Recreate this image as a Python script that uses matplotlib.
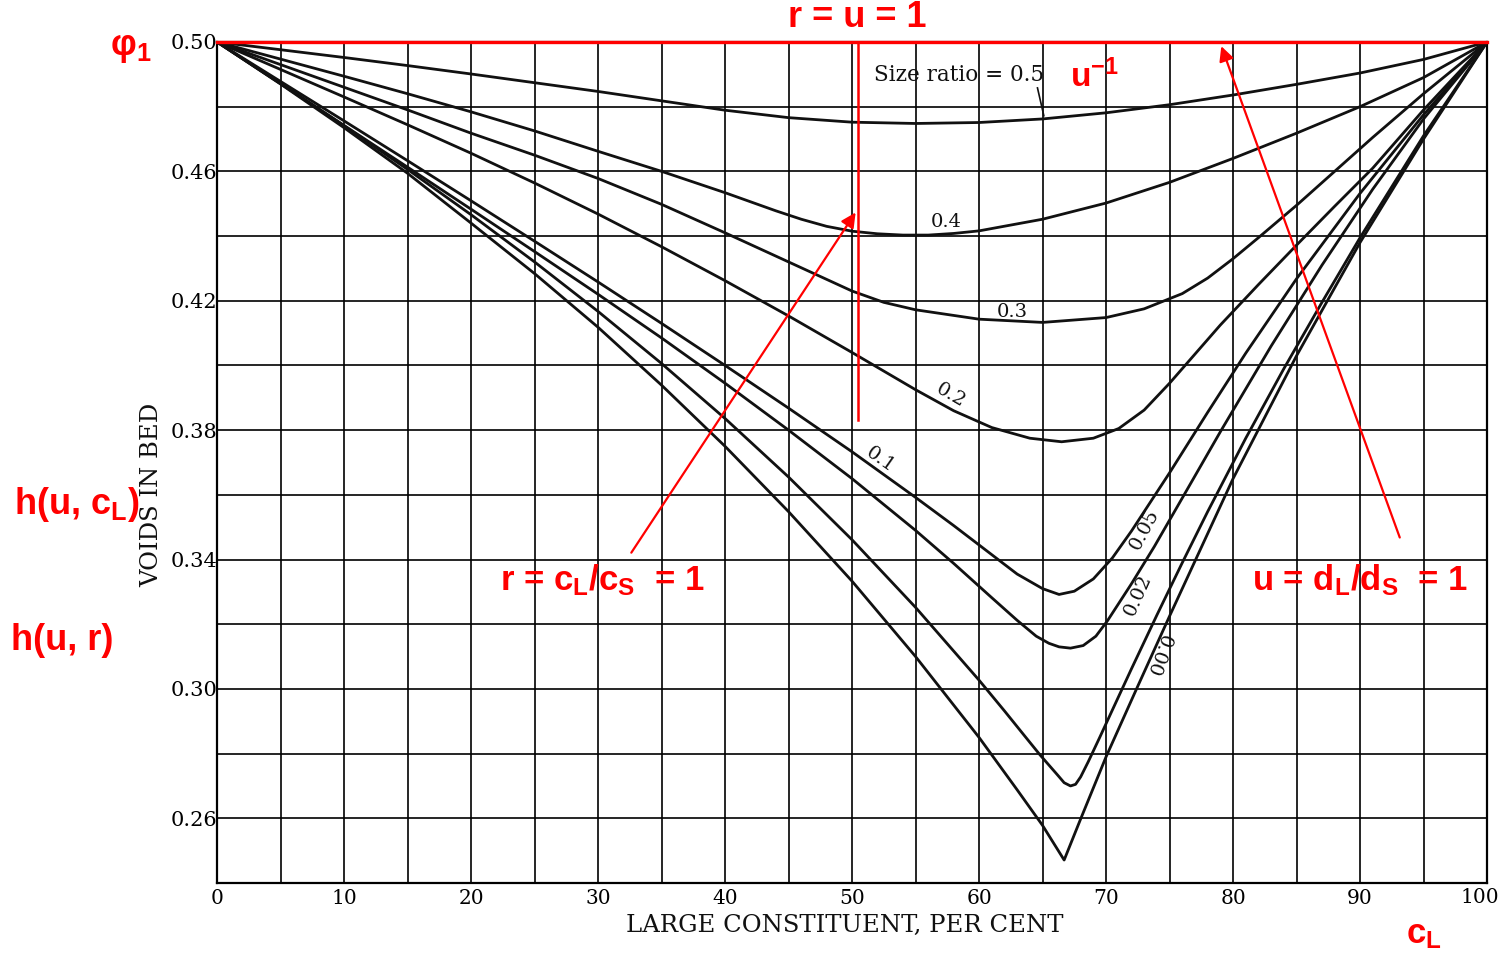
import matplotlib
matplotlib.use("Agg")
import matplotlib.pyplot as plt
from matplotlib.ticker import FixedLocator, FuncFormatter

plt.rcParams["mathtext.fontset"] = "custom"
plt.rcParams["mathtext.rm"] = "Liberation Sans:bold"
plt.rcParams["mathtext.it"] = "Liberation Sans:bold"
plt.rcParams["mathtext.bf"] = "Liberation Sans:bold"
plt.rcParams["mathtext.sf"] = "Liberation Sans:bold"

# size ratio curves (large constituent %, voids)
x_r050 = [0, 5, 10, 15, 20, 25, 30, 35, 40, 45, 50, 55, 60, 65, 70, 75, 80, 85, 90, 95, 100]
y_r050 = [0.500, 0.4976, 0.4952, 0.4927, 0.4901, 0.4874, 0.4847, 0.4818, 0.4789, 0.4766, 0.4752,
          0.4748, 0.4751, 0.4762, 0.4781, 0.4806, 0.4836, 0.4869, 0.4904, 0.4946, 0.500]

x_r040 = [0, 5, 10, 15, 20, 25, 30, 35, 40, 42, 44, 46, 48, 50, 52, 54, 56, 58, 60, 65, 70, 75,
          80, 85, 90, 95, 100]
y_r040 = [0.500, 0.4947, 0.4894, 0.4840, 0.4784, 0.4725, 0.4662, 0.4600, 0.4534, 0.4506, 0.4478,
          0.4452, 0.4430, 0.4415, 0.4407, 0.4403, 0.4403, 0.4408, 0.4416, 0.4452, 0.4502, 0.4566,
          0.4640, 0.4718, 0.4800, 0.4890, 0.500]

x_r030 = [0, 5, 10, 15, 20, 25, 30, 35, 40, 45, 50, 52.5, 55, 60, 65, 70, 73, 76, 78, 80, 82, 85,
          88, 91, 95, 100]
y_r030 = [0.500, 0.4930, 0.4860, 0.4790, 0.4718, 0.4650, 0.4578, 0.4498, 0.4410, 0.4320, 0.4230,
          0.4195, 0.4172, 0.4143, 0.4133, 0.4148, 0.4175, 0.4222, 0.4270, 0.4330, 0.4395, 0.4495,
          0.4600, 0.4705, 0.4840, 0.500]

x_r020 = [0, 5, 10, 15, 20, 25, 30, 35, 40, 45, 50, 55, 58, 61, 64, 66.5, 69, 71, 73, 75, 77, 79,
          82, 85, 88, 91, 95, 100]
y_r020 = [0.500, 0.4915, 0.4830, 0.4744, 0.4656, 0.4564, 0.4468, 0.4367, 0.4262, 0.4153, 0.4040,
          0.3925, 0.3860, 0.3808, 0.3775, 0.3764, 0.3775, 0.3805, 0.3862, 0.3945, 0.4035, 0.4125,
          0.4250, 0.4372, 0.4492, 0.4610, 0.4790, 0.500]

x_r010 = [0, 5, 10, 15, 20, 25, 30, 35, 40, 45, 50, 55, 58, 61, 63, 65, 66.3, 67.5, 69, 70.5, 72,
          75, 78, 81, 85, 90, 95, 100]
y_r010 = [0.500, 0.4878, 0.4756, 0.4633, 0.4509, 0.4384, 0.4258, 0.4130, 0.4000, 0.3868, 0.3733,
          0.3592, 0.3505, 0.3415, 0.3355, 0.3310, 0.3292, 0.3302, 0.3340, 0.3405, 0.3488, 0.3668,
          0.3855, 0.4038, 0.4268, 0.4532, 0.4775, 0.500]

x_r005 = [0, 5, 10, 15, 20, 25, 30, 35, 40, 45, 50, 55, 58, 61, 63, 64.5, 65.5, 66.3, 67.2, 68.2,
          69.2, 70.1, 72, 73.8, 76, 79, 83, 87, 91, 95, 100]
y_r005 = [0.500, 0.4871, 0.4742, 0.4613, 0.4483, 0.4352, 0.4220, 0.4085, 0.3945, 0.3800, 0.3650,
          0.3490, 0.3388, 0.3282, 0.3212, 0.3163, 0.3141, 0.3130, 0.3126, 0.3134, 0.3163, 0.3210,
          0.3325, 0.3440, 0.3590, 0.3795, 0.4060, 0.4310, 0.4545, 0.4762, 0.500]

x_r002 = [0, 5, 10, 15, 20, 25, 30, 35, 40, 45, 50, 55, 60, 62, 63.5, 64.8, 65.6, 66.2, 66.7, 67.2,
          67.6, 68, 68.6, 69.5, 70.5, 72, 74, 76, 78, 81, 84, 87, 90, 95, 100]
y_r002 = [0.500, 0.4872, 0.4741, 0.4606, 0.4466, 0.4320, 0.4167, 0.4006, 0.3836, 0.3655, 0.3461,
          0.3252, 0.3027, 0.2932, 0.2859, 0.2796, 0.2760, 0.2733, 0.2710, 0.2700, 0.2705, 0.2728,
          0.2775, 0.2850, 0.2935, 0.3062, 0.3228, 0.3390, 0.3548, 0.3775, 0.3990, 0.4195, 0.4395,
          0.4710, 0.500]

x_r000 = [0, 5, 10, 15, 20, 25, 30, 35, 40, 45, 50, 55, 60, 63, 65, 66.7, 68, 70, 72.4, 75, 80,
          85, 90, 95, 100]
y_r000 = [0.500, 0.4870, 0.4735, 0.4594, 0.4440, 0.4284, 0.4118, 0.3939, 0.3750, 0.3548, 0.3333,
          0.3100, 0.2850, 0.2688, 0.2578, 0.2471, 0.2598, 0.2790, 0.3000, 0.3225, 0.3650, 0.4030,
          0.4380, 0.4700, 0.500]

curves = [(x_r050, y_r050), (x_r040, y_r040), (x_r030, y_r030), (x_r020, y_r020),
          (x_r010, y_r010), (x_r005, y_r005), (x_r002, y_r002), (x_r000, y_r000)]

# curve labels: text, x, y, rotation
curve_labels = [("0.4", 57.4, 0.4444, 0), ("0.3", 62.6, 0.4165, 0), ("0.2", 57.8, 0.3906, -30),
                ("0.1", 52.2, 0.3708, -35), ("0.05", 73.0, 0.3492, 62), ("0.02", 72.5, 0.3291, 66),
                ("0.00", 74.1, 0.3105, -110)]

x_ticks = list(range(0, 101, 5))
y_ticks = [0.24, 0.26, 0.28, 0.30, 0.32, 0.34, 0.36, 0.38, 0.40, 0.42, 0.44, 0.46, 0.48, 0.50]
y_labelled = [0.26, 0.30, 0.34, 0.38, 0.42, 0.46, 0.50]

fig = plt.figure(figsize=(15.03, 9.58), dpi=100)
ax = fig.add_axes([0.1444, 0.0783, 0.8450, 0.8779])
ax.set_xlim(0, 100)
ax.set_ylim(0.24, 0.50)

ax.xaxis.set_major_locator(FixedLocator(x_ticks))
ax.yaxis.set_major_locator(FixedLocator(y_ticks))
# "100" is drawn separately, pulled in from the figure edge as in the original
ax.xaxis.set_major_formatter(FuncFormatter(
    lambda v, p: f"{v:.0f}" if round(v) % 10 == 0 and v < 99 else ""))
ax.yaxis.set_major_formatter(FuncFormatter(
    lambda v, p: f"{v:.2f}" if any(abs(v - t) < 1e-6 for t in y_labelled) else ""))
ax.tick_params(length=0, labelsize=15, pad=4)
ax.tick_params(axis="x", labelsize=14.5)
for lab in ax.get_xticklabels() + ax.get_yticklabels():
    lab.set_family("DejaVu Serif")
ax.tick_params(axis="y", pad=0)
ax.grid(True, color="black", lw=1.2)
ax.set_axisbelow(True)
for s in ax.spines.values():
    s.set_linewidth(1.6)

serif = dict(family="DejaVu Serif", color="#111111")
ax.text(99.4, -0.0065, "100", transform=ax.get_xaxis_transform(), ha="center", va="top",
        fontsize=14.5, family="DejaVu Serif", color="black")

for xs, ys in curves:
    ax.plot(xs, ys, color="#111111", lw=2.0, solid_joinstyle="round", zorder=3)

ax.text(51.7, 0.4898, "Size ratio = 0.5", fontsize=15.5, va="center", ha="left", **serif)
ax.plot([64.6, 65.1], [0.4858, 0.4772], color="#111111", lw=1.2)
for txt, lx, ly, rot in curve_labels:
    ax.text(lx, ly, txt, fontsize=14, ha="center", va="center", rotation=rot,
            rotation_mode="anchor", **serif)

ax.text(0.4945, -0.05, "LARGE CONSTITUENT, PER CENT", transform=ax.transAxes,
        ha="center", va="center", fontsize=17.5, **serif)
ax.text(-0.0512, 0.461, "VOIDS IN BED", transform=ax.transAxes, rotation=90,
        ha="center", va="center", fontsize=17.5, **serif)

# red annotations
red = dict(color="red", family="Liberation Sans", fontweight="bold", clip_on=False)
ax.axhline(0.50, color="red", lw=2.4, clip_on=False, zorder=6)
ax.plot([50.5, 50.5], [0.50, 0.383], color="red", lw=1.8, zorder=6)
ax.annotate("", xy=(50.4, 0.448), xytext=(32.5, 0.3414),
            arrowprops=dict(arrowstyle="-|>", color="red", lw=1.6, mutation_scale=22), zorder=6)
ax.annotate("", xy=(79.0, 0.4995), xytext=(93.2, 0.346),
            arrowprops=dict(arrowstyle="-|>", color="red", lw=1.6, mutation_scale=22), zorder=6)
ax.text(50.4, 0.5075, "r = u = 1", ha="center", va="center", fontsize=26, **red)
ax.text(22.3, 0.3335, r"r = c$_L$/c$_S$  = 1", ha="left", va="center", fontsize=25, **red)
ax.text(81.5, 0.3335, r"u = d$_L$/d$_S$  = 1", ha="left", va="center", fontsize=25, **red)
ax.text(67.2, 0.4893, r"u$^{-1}$", ha="left", va="center", fontsize=24, **red)
ax.text(-8.4, 0.4983, r"φ$_1$", ha="left", va="center", fontsize=26, **red)
ax.text(-16.0, 0.3571, r"h(u, c$_L$)", ha="left", va="center", fontsize=26, **red)
ax.text(-16.2, 0.3151, "h(u, r)", ha="left", va="center", fontsize=26, **red)
ax.text(93.6, 0.2240, r"c$_L$", ha="left", va="center", fontsize=25, **red)

fig.savefig("out.png", dpi=100, facecolor="white")
